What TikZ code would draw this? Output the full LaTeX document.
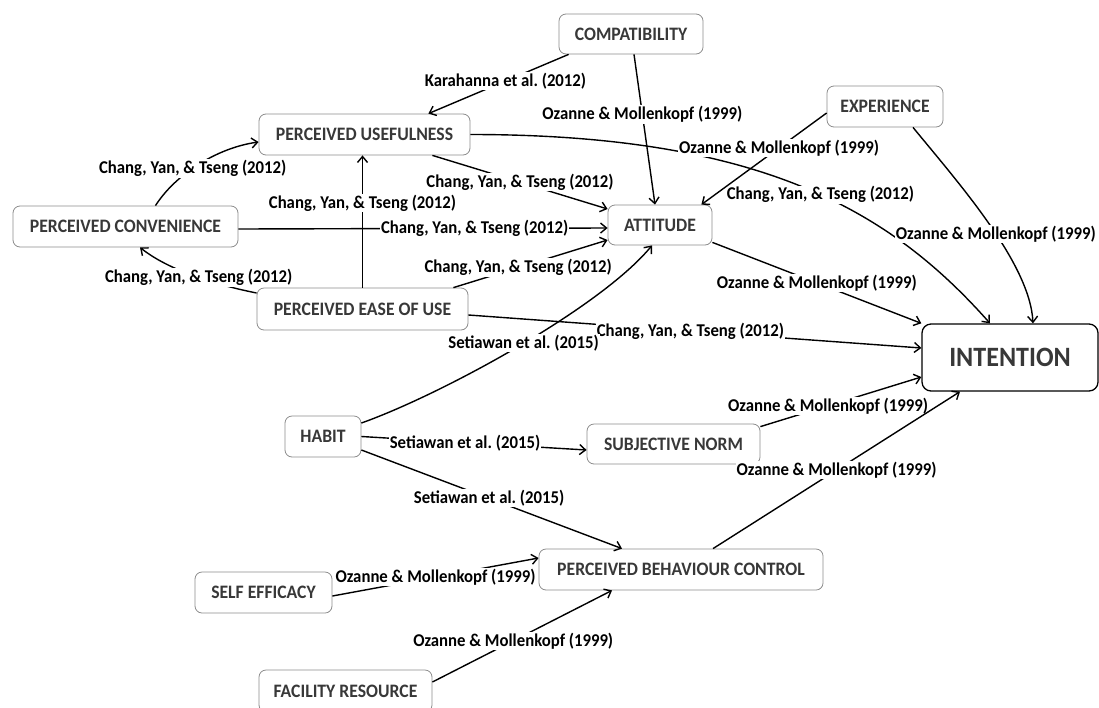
\documentclass[tikz,border=0pt]{standalone}
\usepackage{fontspec}
\setmainfont{Carlito}
\newfontfamily\citefont[FakeStretch=0.93]{Carlito}
\usepackage{tikz}
\usetikzlibrary{shapes.geometric, arrows.meta}
\tikzstyle{factor} = [rectangle, rounded corners=7pt, minimum height=41pt, inner sep=0pt, text centered, draw=black!45, line width=0.8pt, fill=white, text=black!78, font=\citefont\fontsize{19}{21}\selectfont\bfseries]
\tikzstyle{target} = [factor, rounded corners=9pt, minimum height=67pt, draw=black, line width=1.3pt, font=\citefont\fontsize{28}{30}\selectfont\bfseries]
\tikzstyle{cite} = [fill=white, inner sep=1pt, font=\citefont\fontsize{18}{20}\selectfont\bfseries]
\tikzstyle{arrow} = [line width=1.4pt, ->, >={Straight Barb[length=6pt,width=10pt]}]
\begin{document}
\begin{tikzpicture}[x=1pt, y=-1pt]
   \useasboundingbox (0,0) rectangle (1099,707);
   \node (compat) [factor, minimum width=144pt, minimum height=40pt] at (631,34) {COMPATIBILITY};
   \node (pu) [factor, minimum width=211pt] at (364.5,134.5) {PERCEIVED USEFULNESS};
   \node (exp) [factor, minimum width=116pt] at (885,106.5) {EXPERIENCE};
   \node (pc) [factor, minimum width=225pt] at (125.5,226.5) {PERCEIVED CONVENIENCE};
   \node (att) [factor, minimum width=104pt, minimum height=40pt] at (660,225) {ATTITUDE};
   \node (peou) [factor, minimum width=211pt, minimum height=42pt] at (362.5,309) {PERCEIVED EASE OF USE};
   \node (int) [target, minimum width=176pt] at (1010,357.5) {INTENTION};
   \node (habit) [factor, minimum width=76pt] at (323,436.5) {HABIT};
   \node (sn) [factor, minimum width=173pt, minimum height=40pt] at (673.5,444) {SUBJECTIVE NORM};
   \node (pbc) [factor, minimum width=284pt] at (681,569.5) {PERCEIVED BEHAVIOUR CONTROL};
   \node (se) [factor, minimum width=137pt] at (263.5,592.5) {SELF EFFICACY};
   \node (fr) [factor, minimum width=173pt, minimum height=42pt] at (345.5,691) {FACILITY RESOURCE};

   \draw [arrow] ([xshift=10pt]compat.south west) -- node[cite, pos=0.45] {Karahanna et al.\ (2012)} ([xshift=-42pt]pu.north east);
   \draw [arrow] ([xshift=3pt]compat.south) -- node[cite, pos=0.4] {Ozanne \& Mollenkopf (1999)} ([xshift=-5pt]att.north);
   \draw [arrow] (pu.east) .. controls +(290,0) and +(-100,-113) .. node[cite, pos=0.54] {Chang, Yan, \& Tseng (2012)} ([xshift=-20pt]int.north);
   \draw [arrow] ([yshift=-6.5pt]exp.west) -- node[cite, pos=0.38] {Ozanne \& Mollenkopf (1999)} ([xshift=-11pt]att.north east);
   \draw [arrow] ([xshift=28pt]exp.south) .. controls +(45,55) and +(-3,-60) .. node[cite, pos=0.55] {Ozanne \& Mollenkopf (1999)} ([xshift=23pt]int.north);
   \draw [arrow] ([xshift=-38pt]pu.south east) -- node[cite] {Chang, Yan, \& Tseng (2012)} ([yshift=16pt]att.west);
   \draw [arrow] ([xshift=30pt]pc.north) .. controls +(19,-30) and +(-43,6) .. node[cite, pos=0.45] {Chang, Yan, \& Tseng (2012)} ([yshift=-7.5pt]pu.west);
   \draw [arrow] (peou.north) -- node[cite, pos=0.64] {Chang, Yan, \& Tseng (2012)} (peou.north |- pu.south);
   \draw [arrow] ([yshift=-2.5pt]pc.east) -- node[cite, pos=0.64] {Chang, Yan, \& Tseng (2012)} ([yshift=-3pt]att.west);
   \draw [arrow] ([yshift=16pt]peou.west) .. controls +(-50,-10) and +(25,20) .. node[cite, pos=0.42] {Chang, Yan, \& Tseng (2012)} ([xshift=14.5pt]pc.south);
   \draw [arrow] ([xshift=-15pt]peou.north east) -- node[cite, pos=0.42] {Chang, Yan, \& Tseng (2012)} ([yshift=-15pt]att.west);
   \draw [arrow] ([yshift=-6pt]peou.east) -- node[cite, pos=0.49] {Chang, Yan, \& Tseng (2012)} ([yshift=9.5pt]int.west);
   \draw [arrow] ([yshift=3pt]att.south east) -- node[cite] {Ozanne \& Mollenkopf (1999)} (int.north west);
   \draw [arrow] ([yshift=13.5pt]habit.east) .. controls +(79,-28) and +(-52,63) .. node[cite, pos=0.52] {Setiawan et al.\ (2015)} ([xshift=-8pt]att.south);
   \draw [arrow] (habit.east) -- node[cite, pos=0.46] {Setiawan et al.\ (2015)} ([yshift=-6pt]sn.west);
   \draw [arrow] ([yshift=-13.5pt]habit.east) -- node[cite, pos=0.49] {Setiawan et al.\ (2015)} ([xshift=-59pt]pbc.north);
   \draw [arrow] ([yshift=-3pt]sn.north east) -- node[cite, pos=0.42] {Ozanne \& Mollenkopf (1999)} ([yshift=-19.5pt]int.west);
   \draw [arrow] ([xshift=32pt]pbc.north) -- node[cite] {Ozanne \& Mollenkopf (1999)} ([xshift=-50pt]int.south);
   \draw [arrow] ([yshift=-3.5pt]se.east) -- node[cite] {Ozanne \& Mollenkopf (1999)} ([yshift=11.5pt]pbc.west);
   \draw [arrow] ([yshift=9pt]fr.east) -- node[cite, pos=0.45] {Ozanne \& Mollenkopf (1999)} ([xshift=-69pt]pbc.south);
\end{tikzpicture}
\end{document}
